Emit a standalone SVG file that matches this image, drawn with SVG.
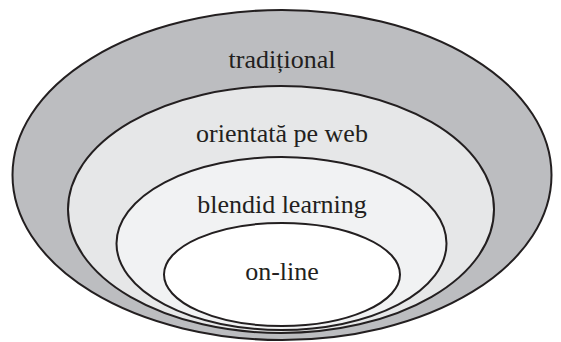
<svg xmlns="http://www.w3.org/2000/svg" width="561" height="342" viewBox="0 0 561 342">
<style>
.e{stroke:#231f20;stroke-width:2}
.t{font-family:'Liberation Serif','Times New Roman',serif;font-size:26px;fill:#231f20;text-anchor:middle}
</style>
<rect width="561" height="342" fill="#ffffff"/>
<g id="traditional">
<ellipse class="e" cx="282" cy="175" rx="269.5" ry="165" fill="#bcbdc0"/>
<text class="t" x="282" y="68">tradițional</text>
</g>
<g id="web">
<ellipse class="e" cx="281" cy="209.5" rx="213" ry="123.5" fill="#e6e7e8"/>
<text class="t" x="282" y="142">orientată pe web</text>
</g>
<g id="blended">
<ellipse class="e" cx="281.5" cy="243.5" rx="165" ry="86.5" fill="#f1f2f3"/>
<text class="t" x="282" y="213">blendid learning</text>
</g>
<g id="online">
<ellipse class="e" cx="282" cy="274.5" rx="118" ry="51.5" fill="#ffffff"/>
<text class="t" x="282" y="280">on-line</text>
</g>
<g id="connectors"/>
</svg>
